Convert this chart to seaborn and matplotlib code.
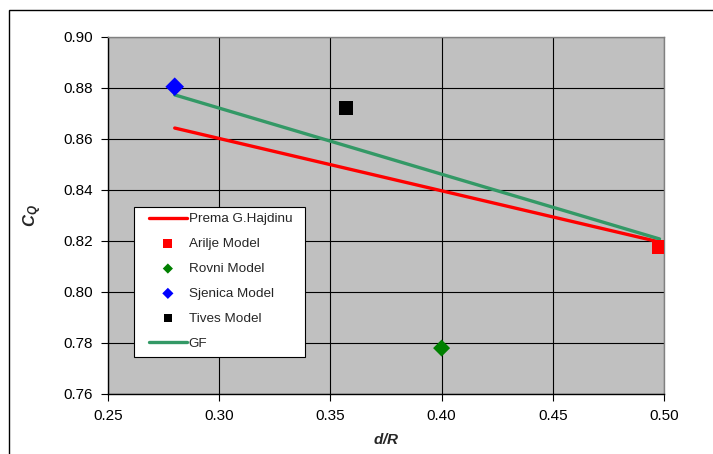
import matplotlib
matplotlib.use("Agg")
import matplotlib.pyplot as plt
import seaborn as sns
import pandas as pd
from matplotlib.patches import Rectangle

sns.set_theme(style="white")
plt.rcParams['font.family'] = ['Liberation Sans', 'DejaVu Sans']
plt.rcParams['mathtext.fontset'] = 'custom'
plt.rcParams['mathtext.bf'] = 'Liberation Sans:bold:italic'
plt.rcParams['mathtext.rm'] = 'Liberation Sans'

# Data
hajdinu_x = [0.28, 0.498]
hajdinu_y = [0.8643, 0.8196]
gf_x = [0.28, 0.498]
gf_y = [0.8773, 0.8208]
arilje_x = [0.498]
arilje_y = [0.8176]
rovni_x = [0.40]
rovni_y = [0.778]
sjenica_x = [0.280]
sjenica_y = [0.8805]
tives_x = [0.357]
tives_y = [0.872]
x_ticks = [0.25, 0.30, 0.35, 0.40, 0.45, 0.50]
y_ticks = [0.76, 0.78, 0.80, 0.82, 0.84, 0.86, 0.88, 0.90]

fig = plt.figure(figsize=(7.13, 4.54), dpi=100)
W, H = 713, 454
AX_L, AX_R, AX_T, AX_B = 108, 664, 37, 394
ax = fig.add_axes([AX_L / W, 1 - AX_B / H, (AX_R - AX_L) / W, (AX_B - AX_T) / H])

def ax_x(px):
    return (px - AX_L) / (AX_R - AX_L)

def ax_y(py):
    return (AX_B - py) / (AX_B - AX_T)

# outer frame
fig.patches.append(Rectangle((9 / W, -0.1), 1.2, 1 - 10 / H + 0.1, transform=fig.transFigure,
                             fill=False, edgecolor='black', linewidth=1.0))

ax.set_facecolor('#C0C0C0')

sns.lineplot(x=hajdinu_x, y=hajdinu_y, ax=ax, color='#FF0000', linewidth=2.4,
             label='Prema G.Hajdinu', zorder=3)
sns.scatterplot(x=arilje_x, y=arilje_y, ax=ax, color='#FF0000', marker='s', s=110,
                edgecolor='none', label='Arilje Model', zorder=4)
sns.scatterplot(x=rovni_x, y=rovni_y, ax=ax, color='#008000', marker='D', s=75,
                edgecolor='none', label='Rovni Model', zorder=4)
sns.scatterplot(x=sjenica_x, y=sjenica_y, ax=ax, color='#0000FF', marker='D', s=90,
                edgecolor='none', label='Sjenica Model', zorder=4)
sns.scatterplot(x=tives_x, y=tives_y, ax=ax, color='#000000', marker='s', s=100,
                edgecolor='none', label='Tives Model', zorder=4)
sns.lineplot(x=gf_x, y=gf_y, ax=ax, color='#339966', linewidth=2.4,
             label='GF', zorder=3)

ax.set_xlim(0.25, 0.50)
ax.set_ylim(0.76, 0.90)
ax.set_xticks(x_ticks)
ax.set_yticks(y_ticks)
ax.set_xticklabels([f"{v:.2f}" for v in x_ticks], fontsize=11)
ax.set_yticklabels([f"{v:.2f}" for v in y_ticks], fontsize=11)
ax.grid(True, color='#000000', linewidth=0.8)
ax.set_axisbelow(True)
ax.tick_params(axis='both', which='both', direction='out', length=5, width=0.8,
               color='black', left=True, bottom=True, pad=6, labelcolor='black')

for side in ['left', 'bottom']:
    ax.spines[side].set_color('black')
    ax.spines[side].set_linewidth(1.0)
for side in ['top', 'right']:
    ax.spines[side].set_color('#808080')
    ax.spines[side].set_linewidth(1.0)
    ax.spines[side].set_visible(True)

ax.set_xlabel(r'$\mathbf{d/R}$', fontsize=11, labelpad=6)
ax.set_ylabel(r'$\mathbf{C_Q}$', fontsize=12, labelpad=14)

# legend box drawn manually
box = Rectangle((ax_x(134), ax_y(357)), ax_x(305) - ax_x(134), ax_y(207) - ax_y(357),
                transform=ax.transAxes, facecolor='white', edgecolor='black',
                linewidth=0.8, zorder=9)
ax.add_patch(box)

leg = ax.legend(loc='upper left', bbox_to_anchor=(ax_x(149), ax_y(213)),
                fontsize=9.7, frameon=False, markerscale=0.6,
                borderpad=0, labelspacing=0.92, handlelength=2.8, handletextpad=0.15,
                borderaxespad=0)
leg.set_zorder(10)

fig.savefig('out.png', dpi=100)
